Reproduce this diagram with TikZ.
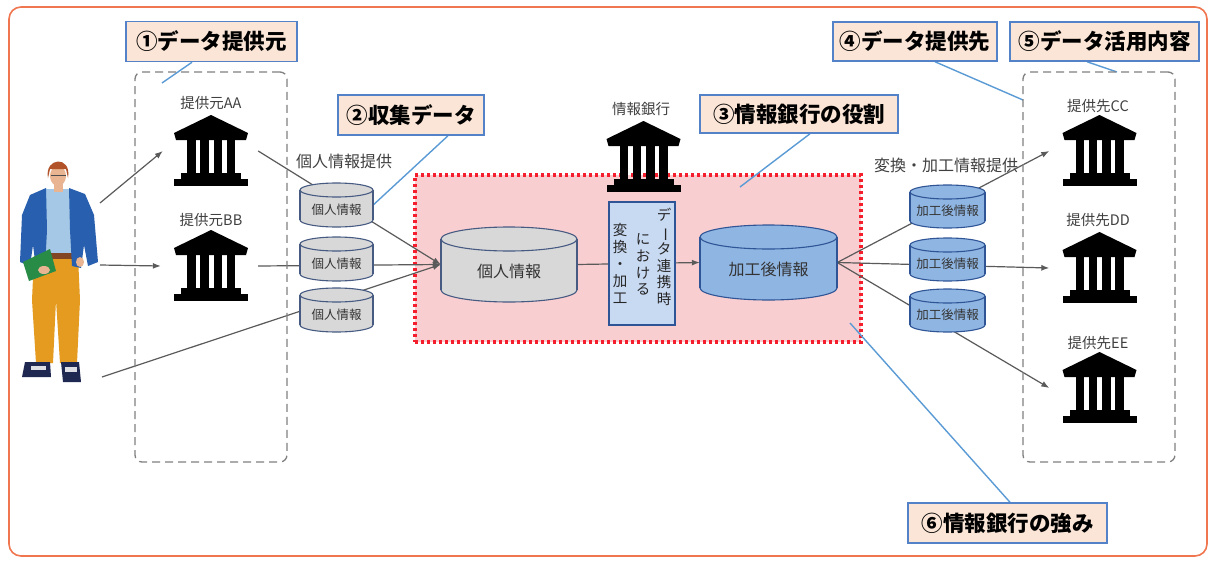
\documentclass[tikz,border=0pt]{standalone}
\usepackage{fontspec}
\usepackage{graphicx}
\setmainfont{Noto Sans CJK JP}
\usetikzlibrary{arrows.meta}
\pgfdeclarelayer{back}
\pgfdeclarelayer{links}
\pgfsetlayers{back,links,main}

\definecolor{framecol}{RGB}{240,118,80}
\definecolor{tagfill}{RGB}{251,229,214}
\definecolor{tagline}{RGB}{84,130,200}
\definecolor{calloutcol}{RGB}{91,155,213}
\definecolor{linkcol}{RGB}{90,90,90}
\definecolor{boxgray}{RGB}{128,128,128}
\definecolor{zonefill}{RGB}{249,206,208}
\definecolor{zoneline}{RGB}{245,30,45}
\definecolor{drumgray}{RGB}{216,216,216}
\definecolor{drumgrayline}{RGB}{70,90,130}
\definecolor{drumblue}{RGB}{143,181,226}
\definecolor{drumblueline}{RGB}{47,85,151}
\definecolor{stepfill}{RGB}{200,217,242}
\definecolor{txtgray}{RGB}{64,64,64}
\definecolor{jacketcol}{RGB}{40,95,175}
\definecolor{shirtcol}{RGB}{165,200,230}
\definecolor{pantscol}{RGB}{228,155,32}
\definecolor{skincol}{RGB}{232,180,145}
\definecolor{haircol}{RGB}{178,82,40}
\definecolor{bookcol}{RGB}{40,140,70}
\definecolor{shoecol}{RGB}{30,40,80}
\definecolor{beltcol}{RGB}{130,70,35}

\tikzset{
  tag/.style={draw=tagline, fill=tagfill, line width=1.5pt, inner sep=0pt,
    font=\fontsize{21.5}{24}\selectfont\bfseries, text=black},
  caption/.style={inner sep=0pt, font=\fontsize{14.5}{17}\selectfont, text=txtgray},
  flowlabel/.style={inner sep=0pt, font=\fontsize{16}{18}\selectfont, text=txtgray},
  drumtext/.style={inner sep=0pt, text=black!80},
  grayDrum/.style={fill=drumgray, draw=drumgrayline, line width=1.1pt},
  blueDrum/.style={fill=drumblue, draw=drumblueline, line width=1.1pt},
  link/.style={draw=linkcol, line width=1.2pt},
  arrowlink/.style={link, -{Latex[length=8pt,width=6pt]}},
  callout/.style={draw=calloutcol, line width=1.4pt},
  group/.style={draw=boxgray, line width=1.3pt, dash pattern=on 8pt off 5pt,
    rounded corners=7pt, inner sep=0pt},
  zone/.style={fill=zonefill, draw=zoneline, line width=3.2pt,
    dash pattern=on 3pt off 3pt, inner sep=0pt},
  stepbox/.style={fill=stepfill, draw=drumblueline, line width=1.1pt, inner sep=0pt},
  vcol/.style={inner sep=0pt, align=center, text=black!85},
  bankbox/.style={inner sep=0pt, minimum width=76pt, minimum height=72pt},
  pics/bankicon/.style={code={
    \fill (0,-36) -- (37,-18) -- (35,-11) -- (-35,-11) -- (-37,-18) -- cycle;
    \fill (-24,-11) rectangle (-15.5,23);
    \fill (-11,-11) rectangle (-2.5,23);
    \fill (2.5,-11) rectangle (11,23);
    \fill (15.5,-11) rectangle (24,23);
    \fill (-30,22) rectangle (30,28);
    \fill (-37,27.5) rectangle (37,35);
  }},
}

% drum: name, centre x, top y, width, height, end radius, style, text
\newcommand\drum[8]{%
  \path[#7] (#2,{#3+#5-#6}) ellipse [x radius={#4/2}, y radius=#6];
  \path[#7,draw=none] ({#2-#4/2},{#3+#6}) rectangle ({#2+#4/2},{#3+#5-#6});
  \draw[#7,fill=none] ({#2-#4/2},{#3+#6}) -- ({#2-#4/2},{#3+#5-#6})
                      ({#2+#4/2},{#3+#6}) -- ({#2+#4/2},{#3+#5-#6});
  \path[#7] (#2,{#3+#6}) ellipse [x radius={#4/2}, y radius=#6];
  \node[inner sep=0pt, minimum width=#4pt, minimum height=#5pt] (#1) at (#2,{#3+#5/2}) {};
  \node[drumtext] (#1t) at (#2,{(#3+#6+#3+#5)/2+1}) {#8};
}

\begin{document}
\begin{tikzpicture}[x=1pt,y=-1pt]
\useasboundingbox (0,0) rectangle (1211,562);

% page and information bank zone
\begin{pgfonlayer}{back}
\fill[white] (0,0) rectangle (1211,562);
\node[zone, minimum width=446pt, minimum height=167pt] (zone) at (638,258.5) {};
\end{pgfonlayer}

% outer frame
\draw[framecol, line width=1.6pt, rounded corners=12pt] (9,7) rectangle (1207,556);

% provider and recipient groups
\node[group, minimum width=152pt, minimum height=390pt] (srcgroup) at (211,267) {};
\node[group, minimum width=152pt, minimum height=390pt] (dstgroup) at (1099,267) {};

% person
\node[inner sep=0pt, minimum width=80pt, minimum height=228pt] (user) at (58,270) {};
\coordinate (u1) at (100,203);
\coordinate (u2) at (100,265);
\coordinate (u3) at (102,377);
\fill[pantscol] (34,256) -- (78,256) -- (80,300) -- (77,363) -- (60,363) -- (56,300)
  -- (53,363) -- (36,363) -- (32,300) -- cycle;
\fill[shirtcol] (45,189) -- (70,189) -- (73,257) -- (42,258) -- cycle;
\fill[beltcol] (42,253) rectangle (74,259);
\fill[jacketcol] (46,188) -- (30,195) -- (22,215) -- (20,262) -- (30,266) -- (33,245)
  -- (36,268) -- (45,268) -- (47,230) -- cycle;
\fill[jacketcol] (69,188) -- (85,194) -- (94,215) -- (98,262) -- (88,266) -- (84,245)
  -- (81,268) -- (72,266) -- (70,230) -- cycle;
\fill[skincol] (54,183) rectangle (63,192);
\fill[skincol] (58,176) ellipse [x radius=8, y radius=10];
\fill[haircol] (48,178) .. controls (44,157) and (72,155) .. (68,178) -- (66,169) -- (50,169) -- cycle;
\draw[black!70, line width=0.8pt] (51,175) -- (66,175);
\fill[bookcol] (23,262) -- (50,249) -- (56,271) -- (29,281) -- cycle;
\fill[skincol] (44,270) ellipse [x radius=6, y radius=4];
\fill[skincol] (80,262) ellipse [x radius=4, y radius=5];
\fill[shoecol] (25,362) -- (50,362) -- (51,377) -- (22,377) -- cycle;
\fill[white!85!shoecol] (31,366) rectangle (46,370);
\fill[shoecol] (61,362) -- (79,362) -- (81,382) -- (63,382) -- cycle;
\fill[white!85!shoecol] (65,367) rectangle (77,372);

% banks
\node[bankbox] (aa) at (211,151) {};
\pic at (aa) {bankicon};
\node[caption] (aatext) at (211,103) {提供元AA};
\node[bankbox] (bb) at (211,266) {};
\pic at (bb) {bankicon};
\node[caption] (bbtext) at (211,220) {提供元BB};
\node[bankbox] (ib) at (643.5,157) {};
\pic at (ib) {bankicon};
\node[caption] (ibtext) at (641,109) {情報銀行};
\node[bankbox] (cc) at (1099.5,151) {};
\pic at (cc) {bankicon};
\node[caption] (cctext) at (1098,106) {提供先CC};
\node[bankbox] (dd) at (1099.5,268) {};
\pic at (dd) {bankicon};
\node[caption] (ddtext) at (1098,220) {提供先DD};
\node[bankbox] (ee) at (1099.5,388) {};
\pic at (ee) {bankicon};
\node[caption] (eetext) at (1098,343) {提供先EE};

% data stores
\begin{scope}[font=\fontsize{12.5}{14}\selectfont]
\drum{cL1}{336.5}{183}{73}{44}{7}{grayDrum}{個人情報}
\drum{cL2}{336.5}{237}{73}{44}{7}{grayDrum}{個人情報}
\drum{cL3}{336.5}{288}{73}{44}{7}{grayDrum}{個人情報}
\drum{cR1}{947.5}{185}{75}{43}{7}{blueDrum}{加工後情報}
\drum{cR2}{947.5}{238}{75}{43}{7}{blueDrum}{加工後情報}
\drum{cR3}{947.5}{289}{75}{43}{7}{blueDrum}{加工後情報}
\end{scope}
\begin{scope}[font=\fontsize{16}{18}\selectfont]
\drum{cP}{509}{227}{136}{75}{12}{grayDrum}{個人情報}
\drum{cB}{768.5}{225}{137}{75}{12}{blueDrum}{加工後情報}
\end{scope}

% conversion step (vertical text)
\node[stepbox, minimum width=66pt, minimum height=123pt] (conv) at (642,263.5) {};
\begin{scope}[font=\fontsize{14.5}{16.8}\selectfont]
\node[vcol] (vc1) at (664,257) {デ\\\rotatebox[origin=c]{-90}{ー}\\タ\\連\\携\\時};
\node[vcol] (vc2) at (643,264.5) {に\\お\\け\\る};
\node[vcol] (vc3) at (620,263.5) {変\\換\\・\\加\\工};
\end{scope}

% flow labels
\node[flowlabel] (lbl1) at (344,161) {個人情報提供};
\node[flowlabel] (lbl2) at (946,165) {変換・加工情報提供};

% connectors
\begin{pgfonlayer}{links}
\draw[arrowlink] (u1) -- ([xshift=-10pt]aa.west);
\draw[arrowlink] (u2) -- ([xshift=-12pt]bb.west);
\draw[arrowlink] (u3) -- (cP.west);
\draw[arrowlink] ([xshift=9pt]aa.east) -- (cP.west);
\draw[arrowlink] ([xshift=9pt]bb.east) -- (cP.west);
\draw[arrowlink] (cP.east) -- (cB.west);
\draw[arrowlink] (cB.east) -- ([xshift=-12pt]cc.west);
\draw[arrowlink] (cB.east) -- ([xshift=-12pt]dd.west);
\draw[arrowlink] (cB.east) -- ([xshift=-12pt]ee.west);
\end{pgfonlayer}

% labels with callouts
\node[tag, minimum width=171pt, minimum height=40pt] (t1) at (211.5,41.5) {①データ提供元};
\node[tag, minimum width=146pt, minimum height=40pt] (t2) at (411,115) {②収集データ};
\node[tag, minimum width=198pt, minimum height=38pt] (t3) at (799,114) {③情報銀行の役割};
\node[tag, minimum width=164pt, minimum height=39pt] (t4) at (915,41.5) {④データ提供先};
\node[tag, minimum width=189pt, minimum height=39pt] (t5) at (1104.5,41.5) {⑤データ活用内容};
\node[tag, minimum width=199pt, minimum height=40pt] (t6) at (1007.5,523) {⑥情報銀行の強み};

\coordinate (k1) at (162,83);
\coordinate (k3) at (740,187);
\coordinate (k4) at (1023,100);
\coordinate (k5) at (1117,72);
\coordinate (k6) at (850,323);
\begin{pgfonlayer}{links}
\draw[callout] ([xshift=-19.5pt]t1.south) -- (k1);
\draw[callout] ([xshift=37pt]t2.south) -- (cL1.east);
\draw[callout] ([xshift=11pt]t3.south) -- (k3);
\draw[callout] ([xshift=20pt]t4.south) -- (k4);
\draw[callout] ([xshift=-17.5pt]t5.south) -- (k5);
\draw[callout] ([xshift=2.5pt]t6.north) -- (k6);
\end{pgfonlayer}
\end{tikzpicture}
\end{document}
